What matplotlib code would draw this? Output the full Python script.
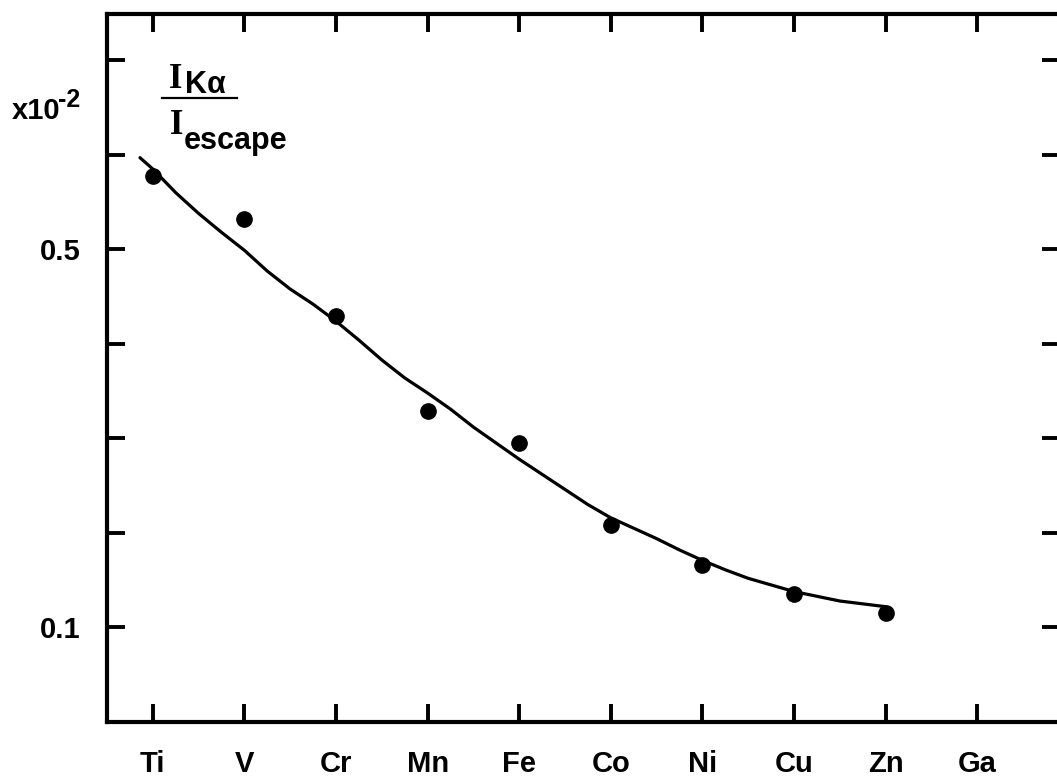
#!/usr/bin/env python3
#=========================================================================#
# K-alpha to escape peak intensity ratio vs. element                      #
#=========================================================================#
import matplotlib
matplotlib.use('Agg')
import matplotlib.pyplot as plt
from matplotlib.lines import Line2D
#-------------------------------------------------------------------------#
# Data                                              #
#-------------------------------------------------------------------------#
elements    = ['Ti', 'V', 'Cr', 'Mn', 'Fe', 'Co', 'Ni', 'Cu', 'Zn', 'Ga']
atomic_z    = [22, 23, 24, 25, 26, 27, 28, 29, 30, 31]
meas_z      = [22, 23, 24, 25, 26, 27, 28, 29, 30]
meas_ratio  = [0.578, 0.532, 0.430, 0.329, 0.295, 0.208, 0.166, 0.135, 0.115]
fit_z       = [21.86, 22.0, 22.25, 22.5, 22.75, 23.0, 23.25, 23.5, 23.75,
               24.0, 24.25, 24.5, 24.75, 25.0, 25.25, 25.5, 25.75, 26.0,
               26.25, 26.5, 26.75, 27.0, 27.25, 27.5, 27.75, 28.0, 28.25,
               28.5, 28.75, 29.0, 29.25, 29.5, 29.75, 30.0]
fit_ratio   = [0.597, 0.585, 0.560, 0.538, 0.518, 0.499, 0.477, 0.458,
               0.442, 0.424, 0.404, 0.383, 0.364, 0.348, 0.331, 0.312,
               0.295, 0.278, 0.262, 0.246, 0.230, 0.216, 0.205, 0.194,
               0.182, 0.171, 0.161, 0.152, 0.145, 0.138, 0.133, 0.128,
               0.125, 0.122]
ytick_vals  = [0.1, 0.2, 0.3, 0.4, 0.5, 0.6, 0.7]
ytick_text  = ['0.1', '', '', '', '0.5', '', '']
#-------------------------------------------------------------------------#
# Plot settings                                                           #
#-------------------------------------------------------------------------#
W, H = 1057, 777
plt.rcParams['font.family'] = ['Liberation Sans', 'DejaVu Sans']
plt.rcParams['font.weight'] = 'bold'

def px(x, y):
    return x / W, 1.0 - y / H

fig = plt.figure(figsize=(W / 100, H / 100), dpi=100)
ax  = fig.add_axes([107 / W, 55 / H, (1060 - 107) / W, 708 / H])
#-------------------------------------------------------------------------#
# Curves                                                                  #
#-------------------------------------------------------------------------#
ax.plot(fit_z, fit_ratio, color='black', lw=2.3, solid_capstyle='round',
        solid_joinstyle='round')
ax.plot(meas_z, meas_ratio, 'o', color='black', ms=11, mec='black')
#-------------------------------------------------------------------------#
# Axes                                                                    #
#-------------------------------------------------------------------------#
ax.set_xlim(21.5, 21.5 + (1060 - 107) / 91.6)
ax.set_ylim(0, 0.749)
ax.set_xticks(atomic_z)
ax.set_xticklabels(elements)
ax.set_yticks(ytick_vals)
ax.set_yticklabels(ytick_text)
for s in ax.spines.values():
    s.set_linewidth(3)
ax.tick_params(direction='in', length=13, width=2.8, top=True, right=True,
               labelsize=21)
ax.tick_params(axis='x', pad=20)
ax.tick_params(axis='y', pad=19)
#-------------------------------------------------------------------------#
# Labels                                                                  #
#-------------------------------------------------------------------------#
fig.text(*px(12, 119), 'x10', fontsize=21, ha='left', va='baseline')
fig.text(*px(58, 107), '-2', fontsize=18, ha='left', va='baseline')
fig.text(*px(169, 88), 'I', fontsize=25, family='Liberation Serif',
         fontweight='bold', ha='left', va='baseline')
fig.text(*px(185, 93), 'K\u03b1', fontsize=22, ha='left', va='baseline')
fig.add_artist(Line2D([162 / W, 237 / W], [1 - 98 / H, 1 - 98 / H],
                      color='black', lw=1.6, transform=fig.transFigure))
fig.text(*px(170, 134), 'I', fontsize=25, family='Liberation Serif',
         fontweight='bold', ha='left', va='baseline')
fig.text(*px(184, 149), 'escape', fontsize=22, ha='left', va='baseline')

fig.savefig('out.png', dpi=100)
